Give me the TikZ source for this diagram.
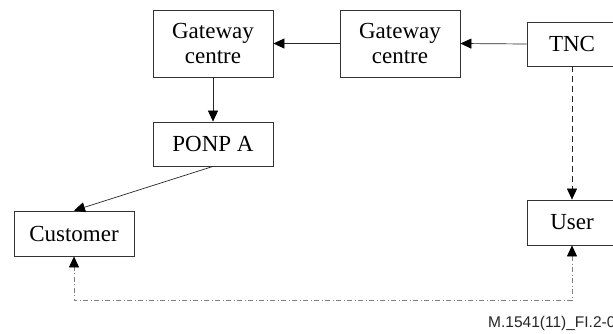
\documentclass[tikz,border=0pt]{standalone}
\usepackage{fontspec}
\setmainfont{Liberation Serif}
\newfontfamily\labelfont{Liberation Sans}
\usetikzlibrary{arrows.meta}

\begin{document}
\begin{tikzpicture}[x=1pt,y=-1pt,
    boxnode/.style={draw=black!80, line width=0.8pt, align=center, inner sep=0pt,
        font=\fontsize{23}{25}\selectfont},
    tip/.style={-{Triangle[length=11pt,width=10pt,color=black]}},
    flow/.style={tip, draw=black!85, line width=0.7pt}]
    \clip (0,0) rectangle (613,333); %画面范围
    % 方框
    \node [boxnode, minimum width=120, minimum height=67] (gwl) at (213,43.5) {Gateway\\centre};
    \node [boxnode, minimum width=120, minimum height=67] (gwm) at (400,43.5) {Gateway\\centre};
    \node [boxnode, minimum width=90, minimum height=44] (tnc) at (572,44) {TNC};
    \node [boxnode, minimum width=120, minimum height=44] (ponp) at (213,144) {PONP A};
    \node [boxnode, minimum width=120, minimum height=45] (cust) at (74,233.5) {Customer};
    \node [boxnode, minimum width=90, minimum height=45] (user) at (572,222.5) {User};

    % 连线
    \draw [flow] (tnc.west) -- (gwm.east);
    \draw [flow] (gwm.west) -- (gwl.east);
    \draw [flow] (gwl.south) -- (ponp.north);
    \draw [flow] (ponp.south) -- (cust.north);
    \draw [flow, dash pattern=on 6pt off 4pt] (tnc.south) -- (user.north);
    \draw [{Triangle[length=11pt,width=10pt,color=black]}-{Triangle[length=11pt,width=10pt,color=black]},
        draw=black!50, line width=0.8pt, dash pattern=on 5pt off 2.5pt on 1pt off 2.5pt]
        (user.south) -- ++(0,55) -| (cust.south); %点划线

    \node [anchor=base west, inner sep=0pt, font=\labelfont\fontsize{15.5}{15.5}\selectfont, text=black!85]
        (fig) at (488,327) {M.1541(11)\_FI.2-01};
\end{tikzpicture}
\end{document}
